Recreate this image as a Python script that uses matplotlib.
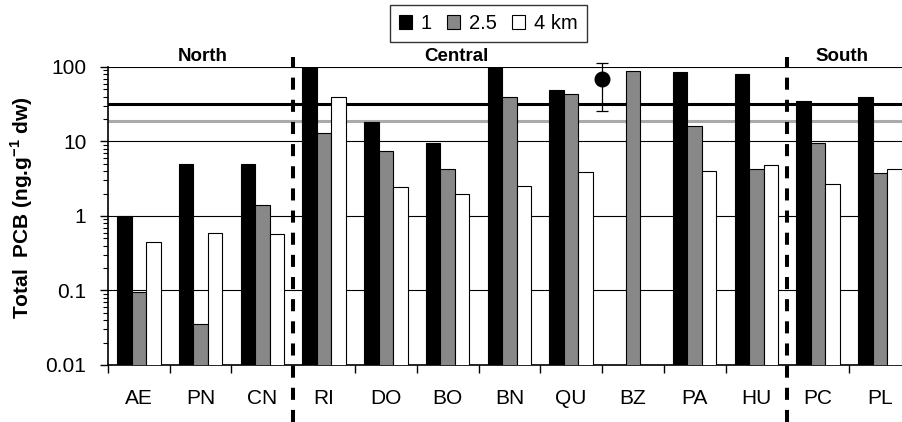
import numpy as np
import matplotlib
matplotlib.use("Agg")
import matplotlib.pyplot as plt
from matplotlib.patches import Patch
from matplotlib.ticker import LogLocator, FixedLocator, NullFormatter

plt.rcParams['font.family'] = ['Liberation Sans', 'DejaVu Sans']
plt.rcParams['mathtext.fontset'] = 'custom'
plt.rcParams['mathtext.rm'] = 'Liberation Sans'
plt.rcParams['mathtext.bf'] = 'Liberation Sans:bold'

# sites, north to south
sites = ['AE', 'PN', 'CN', 'RI', 'DO', 'BO', 'BN', 'QU', 'BZ', 'PA', 'HU', 'PC', 'PL']

# total PCB (ng/g dw) at 1, 2.5 and 4 km from the coast
pcb_1km = [1.0, 5.0, 5.0, 100, 18.0, 9.5, 100, 49, np.nan, 85, 80, 35, 40]
pcb_25km = [0.095, 0.035, 1.4, 13, 7.5, 4.3, 40, 43.5, 88, 16.3, 4.25, 9.5, 3.8]
pcb_4km = [0.45, 0.6, 0.57, 40, 2.45, 1.95, 2.55, 3.85, np.nan, 4.05, 4.9, 2.7, 4.25]

series_names = ['1', '2.5', '4 km']

# reference mean with range
ref_value = 70
ref_low = 26
ref_high = 112

# guideline levels
level_black = 31.6
level_grey = 18.8

regions = ['North', 'Central', 'South']
region_x = [1.04, 5.15, 11.38]
region_breaks = [2.5, 10.5]

fig = plt.figure(figsize=(9.02, 4.22), dpi=100)
ax = fig.add_axes([0.1197, 0.1351, 0.8901, 0.7062])

x = np.arange(len(sites))
w = 0.235
grey = '#888888'
ax.bar(x - w, pcb_1km, w, color='black', edgecolor='black', linewidth=0.8, zorder=3)
ax.bar(x, pcb_25km, w, color=grey, edgecolor='black', linewidth=0.8, zorder=3)
ax.bar(x + w, pcb_4km, w, color='white', edgecolor='black', linewidth=0.8, zorder=3)

ax.axhline(level_black, color='black', lw=2.2, zorder=2)
ax.axhline(level_grey, color='#aaaaaa', lw=2.2, zorder=2)

ax.errorbar([7.5], [ref_value], yerr=[[ref_value - ref_low], [ref_high - ref_value]],
            fmt='o', color='black', ms=10.5, elinewidth=0.9, capsize=4, capthick=0.9,
            zorder=5, clip_on=False)

for xb in region_breaks:
    ax.axvline(xb, ymin=-0.19, ymax=1.034, color='black', lw=2.9,
               linestyle=(0, (3, 2.5)), clip_on=False, zorder=6)

for name, xr in zip(regions, region_x):
    ax.text(xr, 1.034, name, transform=ax.get_xaxis_transform(), ha='center',
            va='center', fontsize=13.5, fontweight='bold')

ax.set_yscale('log')
ax.set_ylim(0.01, 100)
ax.set_xlim(-0.5, len(sites) - 0.5)
ax.set_yticks([0.01, 0.1, 1, 10, 100])
ax.set_yticklabels(['0.01', '0.1', '1', '10', '100'])
ax.yaxis.set_minor_locator(LogLocator(base=10, subs=np.arange(2, 10)))
ax.yaxis.set_minor_formatter(NullFormatter())
ax.grid(axis='y', which='major', color='black', lw=0.8)
ax.set_axisbelow(True)

# group boundaries get the tick marks, labels sit at group centres
ax.xaxis.set_major_locator(FixedLocator(np.arange(-0.5, len(sites), 1.0)))
ax.xaxis.set_major_formatter(NullFormatter())
ax.xaxis.set_minor_locator(FixedLocator(x))
ax.set_xticklabels(sites, minor=True)
ax.tick_params(axis='x', which='major', direction='out', length=6, width=1)
ax.tick_params(axis='x', which='minor', length=0, pad=17, labelsize=15)
ax.tick_params(axis='y', which='major', direction='out', length=6, width=1,
               pad=9.5, labelsize=15)
ax.tick_params(axis='y', which='minor', direction='out', length=3.5, width=0.8)

for side in ['top', 'right']:
    ax.spines[side].set_visible(False)
ax.spines['left'].set_linewidth(1.2)
ax.spines['bottom'].set_linewidth(1.2)

ax.set_ylabel('Total  PCB (ng.g$^{\\mathbf{-1}}$ dw)', fontsize=15, fontweight='bold')
ax.yaxis.set_label_coords(-0.091, 0.527)

handles = [Patch(facecolor=c, edgecolor='black', linewidth=0.8)
           for c in ['black', grey, 'white']]
leg = fig.legend(handles, series_names, loc='center', bbox_to_anchor=(0.5416, 0.944),
                 ncol=3, fontsize=14.5, frameon=True, fancybox=False,
                 handlelength=0.65, handleheight=0.65, handletextpad=0.45,
                 columnspacing=0.75, borderpad=0.45, borderaxespad=0)
leg.get_frame().set_edgecolor('black')
leg.get_frame().set_linewidth(1)

fig.savefig('out.png', dpi=100)
